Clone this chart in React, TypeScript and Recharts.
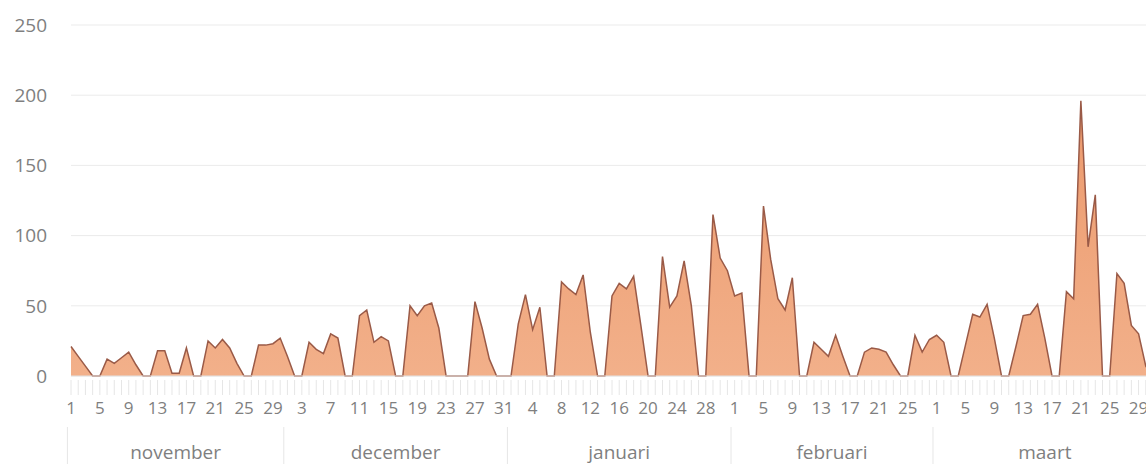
import React from 'react';
import { AreaChart, Area, XAxis, YAxis, CartesianGrid } from 'recharts';

const monthNames = ['november', 'december', 'januari', 'februari', 'maart'];

const novValues = [21, 14, 7, 0, 0, 12, 9, 13, 17, 8, 0, 0, 18, 18, 2, 2, 20, 0, 0, 25, 20, 26, 20, 9, 0, 0, 22, 22, 23, 27];
const decValues = [14, 0, 0, 24, 19, 16, 30, 27, 0, 0, 43, 47, 24, 28, 25, 0, 0, 50, 43, 50, 52, 34, 0, 0, 0, 0, 53, 34, 12, 0, 0];
const janValues = [0, 37, 58, 33, 49, 0, 0, 67, 62, 58, 72, 31, 0, 0, 57, 66, 62, 71, 36, 0, 0, 85, 49, 57, 82, 50, 0, 0, 115, 84, 75];
const febValues = [57, 59, 0, 0, 121, 83, 55, 47, 70, 0, 0, 24, 19, 14, 29, 14, 0, 0, 17, 20, 19, 17, 8, 0, 0, 29, 17, 26];
const marValues = [29, 24, 0, 0, 22, 44, 42, 51, 27, 0, 0, 21, 43, 44, 51, 27, 0, 0, 60, 55, 196, 92, 129, 0, 0, 73, 66, 36, 30, 7, 0];

const yTicks = [0, 50, 100, 150, 200, 250];

const monthValues = [novValues, decValues, janValues, febValues, marValues];

const data = monthValues.flatMap((vals, m) =>
  vals.map((v, d) => ({ key: `${m}-${d + 1}`, day: d + 1, month: m, monthLen: vals.length, v }))
);

const CHART_W = 1166;
const CHART_H = 464;
const MARGIN = { top: 25, right: 13, bottom: 0, left: 0 };
const Y_W = 71;
const PLOT_W = CHART_W - MARGIN.left - MARGIN.right - Y_W;

const FONT = '"Open Sans", "Noto Sans", sans-serif';
const TEXT = '#7f7f7f';

const DayTick = (props: any) => {
  const { x, y, payload, visibleTicksCount } = props;
  const i = payload.index;
  const d = data[i];
  if (!d) return null;
  const step = PLOT_W / (visibleTicksCount - 1);
  const first = d.day === 1;
  return (
    <g>
      <line x1={x} x2={x} y1={y + 4} y2={y + 19} stroke="#e6e6e6" strokeWidth={1} />
      {i % 4 === 0 && (
        <text x={x} y={y + 31} textAnchor="middle" dominantBaseline="central" fill={TEXT} fontSize={17} fontFamily={FONT}>
          {d.day}
        </text>
      )}
      {first && (
        <line x1={x - step / 2} x2={x - step / 2} y1={y + 51} y2={y + 88} stroke="#e6e6e6" strokeWidth={1} />
      )}
      {first && (
        <text
          x={x + ((d.monthLen - 1) * step) / 2}
          y={y + 76}
          textAnchor="middle"
          dominantBaseline="central"
          fill={TEXT}
          fontSize={19}
          fontFamily={FONT}
        >
          {monthNames[d.month]}
        </text>
      )}
    </g>
  );
};

export default function App() {
  return (
    <div style={{ position: 'absolute', left: 0, top: 0, width: 1146, height: 464, overflow: 'hidden', background: '#fff' }}>
      <AreaChart width={CHART_W} height={CHART_H} data={data} margin={MARGIN}>
        <defs>
          <linearGradient id="fillGrad" x1="0" y1="0" x2="0" y2="1">
            <stop offset="0%" stopColor="#EC9A6D" />
            <stop offset="100%" stopColor="#F2B08A" />
          </linearGradient>
        </defs>
        <CartesianGrid vertical={false} stroke="#ebebeb" />
        <XAxis
          dataKey="key"
          interval={0}
          tickSize={0}
          tickMargin={0}
          height={88}
          tickLine={false}
          axisLine={{ stroke: '#e3e3e3' }}
          tick={<DayTick />}
        />
        <YAxis
          width={Y_W}
          domain={[0, 250]}
          ticks={yTicks}
          tickSize={0}
          tickMargin={24}
          axisLine={false}
          tickLine={false}
          tick={{ fill: TEXT, fontSize: 19, fontFamily: FONT }}
        />
        <Area
          type="linear"
          dataKey="v"
          stroke="#9a5a47"
          strokeWidth={1.5}
          fill="url(#fillGrad)"
          fillOpacity={1}
          dot={false}
          activeDot={false}
          isAnimationActive={false}
        />
      </AreaChart>
    </div>
  );
}
